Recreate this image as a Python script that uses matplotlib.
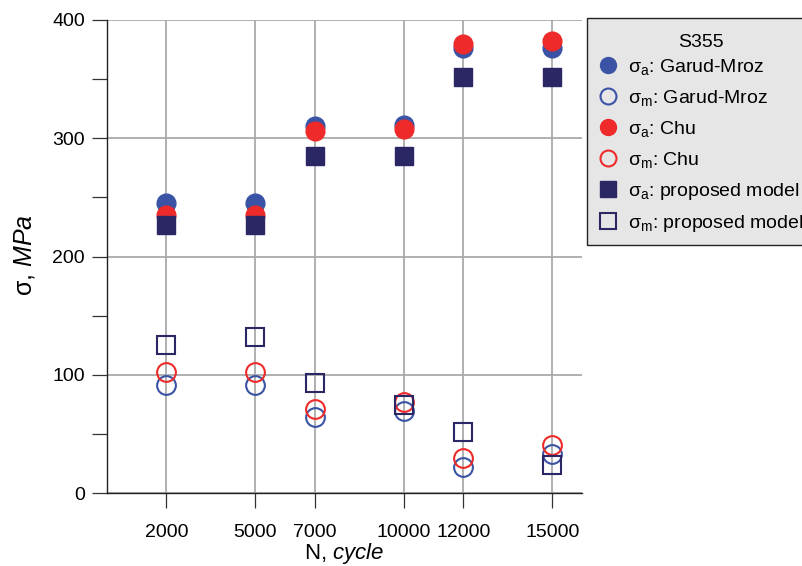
import matplotlib
matplotlib.use("Agg")
import matplotlib.pyplot as plt

plt.rcParams['font.family'] = ['Liberation Sans', 'DejaVu Sans']
plt.rcParams['mathtext.fontset'] = 'custom'
plt.rcParams['mathtext.rm'] = 'Liberation Sans'
plt.rcParams['mathtext.it'] = 'Liberation Sans:italic'
plt.rcParams['mathtext.bf'] = 'Liberation Sans:bold'

cycles = [2000, 5000, 7000, 10000, 12000, 15000]
xtick_labels = ['2000', '5000', '7000', '10000', '12000', '15000']

sa_garud = [245, 245, 310, 311, 376, 376]
sm_garud = [91, 91, 64, 69, 22, 33]
sa_chu = [235, 235, 306, 308, 380, 382]
sm_chu = [102, 102, 71, 77, 30, 41]
sa_prop = [227, 227, 285, 285, 352, 352]
sm_prop = [125, 132, 93, 74, 52, 24]

blue = '#3a53a4'
red = '#ee2a2a'
navy = '#2b2764'

fig = plt.figure(figsize=(8.03, 5.66), dpi=100)
ax = fig.add_axes([107/803, 1-493/566, (582-107)/803, (493-20)/566])

ms = 13.5
ax.plot(cycles, sa_garud, 'o', color=blue, ms=ms, mec=blue, label=r'$\mathrm{\sigma_a}$: Garud-Mroz', zorder=3)
ax.plot(cycles, sm_garud, 'o', mfc='none', mec=blue, mew=1.5, ms=ms, label=r'$\mathrm{\sigma_m}$: Garud-Mroz', zorder=3)
ax.plot(cycles, sa_chu, 'o', color=red, ms=ms, mec=red, label=r'$\mathrm{\sigma_a}$: Chu', zorder=4)
ax.plot(cycles, sm_chu, 'o', mfc='none', mec=red, mew=1.5, ms=ms, label=r'$\mathrm{\sigma_m}$: Chu', zorder=4)
ax.plot(cycles, sa_prop, 's', color=navy, ms=ms, mec=navy, label=r'$\mathrm{\sigma_a}$: proposed model', zorder=5)
ax.plot(cycles, sm_prop, 's', mfc='none', mec=navy, mew=1.5, ms=ms, label=r'$\mathrm{\sigma_m}$: proposed model', zorder=5)

ax.set_xlim(0, 16000)
ax.set_ylim(0, 400)
ax.set_xticks(cycles)
ax.set_xticklabels(xtick_labels)
ax.set_yticks([0, 100, 200, 300, 400])
ax.set_yticks([50, 150, 250, 350], minor=True)

ax.grid(True, which='major', color='#aaaaaa', lw=1.3, zorder=0)
ax.set_axisbelow(True)
for s in ['top', 'right']:
    ax.spines[s].set_visible(False)
for s in ['left', 'bottom']:
    ax.spines[s].set_color('#222222')
    ax.spines[s].set_linewidth(1.0)

ax.tick_params(axis='both', which='both', direction='out', length=11, width=0.9, color='#333333', labelsize=14)
ax.tick_params(axis='y', which='both', pad=5)
ax.tick_params(axis='x', which='both', pad=11)

ax.set_xlabel(r'N, $\mathit{cycle}$', fontsize=16, va='center')
ax.xaxis.set_label_coords(0.5, (493-553)/473)
ax.set_ylabel(r'$\mathrm{\sigma}$, $\mathit{MPa}$', fontsize=18)
ax.yaxis.set_label_coords((37-107)/475, 0.502)

leg = ax.legend(loc='upper left', bbox_to_anchor=(587/803, 1-18/566), bbox_transform=fig.transFigure,
                title='S355', title_fontsize=14, fontsize=14, frameon=True, fancybox=False,
                facecolor='#e6e6e6', edgecolor='#222222', framealpha=1, borderpad=0.55,
                labelspacing=0.57, handletextpad=0.45, borderaxespad=0, handlelength=1.1,
                markerscale=0.85)
leg.get_frame().set_linewidth(1.0)
leg.get_title().set_position((0, -5))

fig.savefig('out.png', dpi=100)
